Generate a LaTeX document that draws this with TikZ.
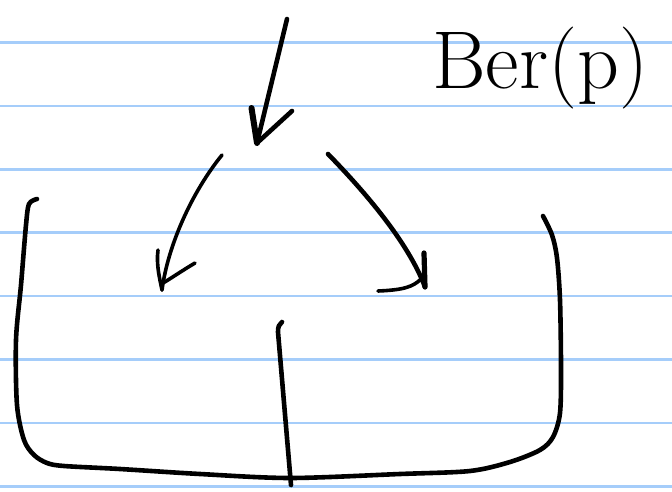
\documentclass[tikz,border=0pt]{standalone}
\usepackage{tikz}
\definecolor{ruleblue}{RGB}{165,205,250}
\begin{document}
\begin{tikzpicture}[x=1pt,y=-1pt,
  rule/.style={ruleblue,line width=2.6pt},
  ink/.style={black,line width=4.6pt,line cap=round,line join=round},
  thinink/.style={black,line width=3.6pt,line cap=round,line join=round}]
\useasboundingbox[fill=white] (0,0) rectangle (672,492);
% ruled lines
\foreach \k in {0,...,7}{
  \draw[rule] (0,{42.5+63.4*\k}) -- (672,{42.5+63.4*\k});
}
% label
\node[anchor=base west,inner sep=0pt,font=\fontsize{82}{86}\selectfont] (ber) at (432,89) {Ber(p)};
% top arrow
\coordinate (ts) at (287,19);
\coordinate (tt) at (257,143);
\draw[ink] (ts) -- (tt);
\draw[ink,line width=6pt] (251.5,108) -- (tt);
\draw[ink] (tt) -- (292,111);
% left arc arrow
\coordinate (ls) at (222,155);
\coordinate (lt) at (162,290);
\draw[thinink] (ls) .. controls (192,192) and (168,245) .. (lt);
\draw[thinink] (158,250) .. controls (156,265) and (160,280) .. (lt);
\draw[thinink] (195,263) .. controls (180,272) and (170,279) .. (163,283);
% right arc arrow
\coordinate (rs) at (328,154);
\coordinate (rt) at (425,287);
\draw[ink] (rs) .. controls (365,192) and (408,242) .. (rt);
\draw[ink,line width=5.2pt] (424,253) -- (rt);
\draw[thinink] (378,291) .. controls (403,290) and (413,287) .. (421,279);
% bracket
\draw[ink] plot[smooth,tension=0.5] coordinates {
  (37,199) (29,204) (26,225) (21,285) (16,340) (17,405) (24,440) (34,455) (47,463) (64,466)
  (120,469) (200,474) (290,478) (400,474) (470,471) (510,462) (540,450) (553,437)
  (560,413) (561,367) (560,300) (557,258) (552,235) (543,216)};
% centre stem
\coordinate (cs) at (282,322);
\coordinate (ce) at (291,485);
\draw[ink] (cs) .. controls (279,324) and (278,327) .. (278,332) -- (ce);
\end{tikzpicture}
\end{document}
